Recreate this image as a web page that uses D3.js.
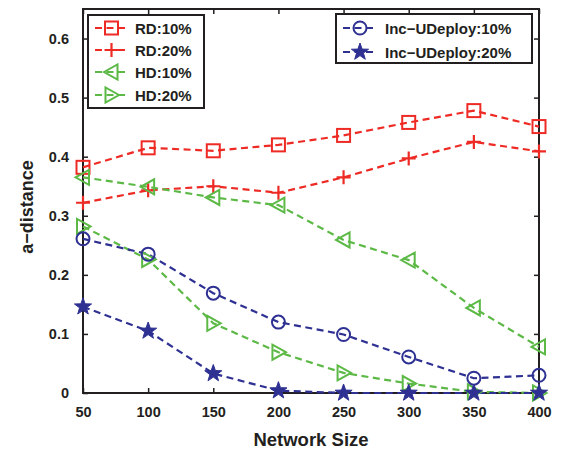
<!DOCTYPE html>
<html><head><meta charset="utf-8">
<script src="https://cdn.jsdelivr.net/npm/d3@7"></script>
<style>body{margin:0;background:#fff}text{font-family:"Liberation Sans",Arial,sans-serif;font-weight:bold;fill:#231f20}</style>
</head><body><svg id="c" width="561" height="450"></svg>
<script>
const networkSizes = [50,100,150,200,250,300,350,400];
const xTicks = [50,100,150,200,250,300,350,400];
const yTicks = [0,0.1,0.2,0.3,0.4,0.5,0.6];
const rd10 = [0.382,0.415,0.41,0.42,0.436,0.458,0.478,0.451];
const rd20 = [0.322,0.343,0.35,0.339,0.365,0.397,0.425,0.409];
const hd10 = [0.365,0.349,0.331,0.318,0.259,0.225,0.144,0.078];
const hd20 = [0.282,0.226,0.118,0.069,0.034,0.016,0.002,0.0];
const inc10 = [0.261,0.235,0.169,0.12,0.099,0.061,0.025,0.03];
const inc20 = [0.146,0.105,0.033,0.004,0.0,0.0,0.0,0.0];
const seriesNames = ["RD:10%","RD:20%","HD:10%","HD:20%","Inc\u2212UDeploy:10%","Inc\u2212UDeploy:20%"];

const RED="#ee2a24", GREEN="#5cb946", BLUE="#2e3192";
const series = [
 {name:seriesNames[0], v:rd10, c:RED, m:"square"},
 {name:seriesNames[1], v:rd20, c:RED, m:"plus"},
 {name:seriesNames[2], v:hd10, c:GREEN, m:"tleft"},
 {name:seriesNames[3], v:hd20, c:GREEN, m:"tright"},
 {name:seriesNames[4], v:inc10, c:BLUE, m:"circle"},
 {name:seriesNames[5], v:inc20, c:BLUE, m:"star"}
];
const L=83,R=539,T=9,B=393;
const svg=d3.select("#c");
const x=d3.scaleLinear().domain([50,400]).range([L,R]);
const y=d3.scaleLinear().domain([0,0.65]).range([B,T]);

function drawMarker(g,type,cx,cy,col){
  if(type==="square") g.append("rect").attr("x",cx-6.5).attr("y",cy-6.5).attr("width",13).attr("height",13).attr("fill","none").attr("stroke",col).attr("stroke-width",2);
  else if(type==="plus") g.append("path").attr("d",`M${cx-7},${cy}H${cx+7}M${cx},${cy-7}V${cy+7}`).attr("stroke",col).attr("stroke-width",2.2).attr("fill","none");
  else if(type==="circle") g.append("circle").attr("cx",cx).attr("cy",cy).attr("r",6.5).attr("fill","none").attr("stroke",col).attr("stroke-width",2);
  else if(type==="tleft") g.append("path").attr("d",`M${cx-7.5},${cy}L${cx+6},${cy-7.5}L${cx+6},${cy+7.5}Z`).attr("fill","none").attr("stroke",col).attr("stroke-width",2);
  else if(type==="tright") g.append("path").attr("d",`M${cx+7.5},${cy}L${cx-6},${cy-7.5}L${cx-6},${cy+7.5}Z`).attr("fill","none").attr("stroke",col).attr("stroke-width",2);
  else if(type==="star"){
    const pts=[];for(let i=0;i<10;i++){const r=i%2?3.6:9;const a=-Math.PI/2+i*Math.PI/5;pts.push([cx+r*Math.cos(a),cy+r*Math.sin(a)]);}
    g.append("path").attr("d","M"+pts.map(p=>p.join(",")).join("L")+"Z").attr("fill",col).attr("stroke",col).attr("stroke-width",1);
  }
}

// axes box
const gx=svg.append("g").attr("transform",`translate(0,${B})`).call(d3.axisBottom(x).tickValues(xTicks).tickSize(-5).tickPadding(14).tickFormat(d3.format("d")));
const gxt=svg.append("g").attr("transform",`translate(0,${T})`).call(d3.axisTop(x).tickValues(xTicks).tickSize(-5).tickFormat(""));
const gy=svg.append("g").attr("transform",`translate(${L},0)`).call(d3.axisLeft(y).tickValues(yTicks).tickSize(-5).tickPadding(14).tickFormat(d=>d===0?"0":d3.format(".1f")(d)));
const gyr=svg.append("g").attr("transform",`translate(${R},0)`).call(d3.axisRight(y).tickValues(yTicks).tickSize(-5).tickFormat(""));
[gx,gxt,gy,gyr].forEach(g=>{g.select(".domain").remove();g.selectAll(".tick line").attr("stroke","#231f20").attr("stroke-width",1.5);g.selectAll("text").style("font-size","14.5px").style("font-family","Liberation Sans, Arial").style("font-weight","bold").attr("fill","#231f20");});
svg.append("rect").attr("x",L).attr("y",T).attr("width",R-L).attr("height",B-T).attr("fill","none").attr("stroke","#231f20").attr("stroke-width",2);

// lines
const line=d3.line().x((d,i)=>x(networkSizes[i])).y(d=>y(d));
series.forEach(s=>{
  svg.append("path").datum(s.v).attr("d",line).attr("fill","none").attr("stroke",s.c).attr("stroke-width",2.2).attr("stroke-dasharray","7,4.5");
});
series.forEach(s=>{
  const g=svg.append("g");
  s.v.forEach((v,i)=>drawMarker(g,s.m,x(networkSizes[i]),y(v),s.c));
});

// legends
function legend(x0,y0,w,h,items,lx0,lx1,tx,rows){
  svg.append("rect").attr("x",x0).attr("y",y0).attr("width",w).attr("height",h).attr("fill","#fff").attr("stroke","#231f20").attr("stroke-width",2);
  items.forEach((s,i)=>{
    const yy=rows[i];
    svg.append("line").attr("x1",lx0).attr("x2",lx1).attr("y1",yy).attr("y2",yy).attr("stroke",s.c).attr("stroke-width",2.2).attr("stroke-dasharray","7,4.5");
    const g=svg.append("g");drawMarker(g,s.m,(lx0+lx1)/2,yy,s.c);
    svg.append("text").attr("x",tx).attr("y",yy+5.5).style("font-size","15px").text(s.name);
  });
}
legend(88,15,116,93,series.slice(0,4),95,128,135,[28,50,72,95]);
legend(336,14,196,49,series.slice(4),343,377,385,[28,52]);

svg.append("text").attr("x",(L+R)/2).attr("y",446).attr("text-anchor","middle").style("font-size","18.5px").text("Network Size");
svg.append("text").attr("transform",`translate(33,${(T+B)/2+6}) rotate(-90)`).attr("text-anchor","middle").style("font-size","18px").text("a\u2212distance");
</script></body></html>
